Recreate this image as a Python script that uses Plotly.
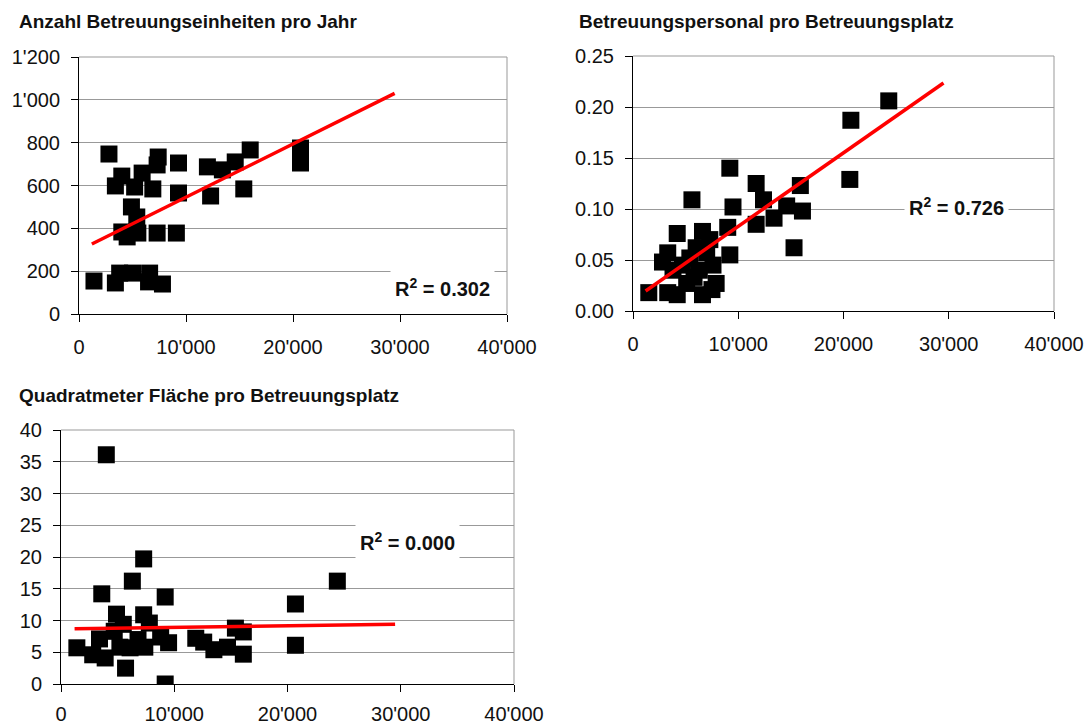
import plotly.graph_objects as go

# ---------------- data ----------------
titles = ["Anzahl Betreuungseinheiten pro Jahr",
          "Betreuungspersonal pro Betreuungsplatz",
          "Quadratmeter Fläche pro Betreuungsplatz"]

x_tickvals = [0, 10000, 20000, 30000, 40000]
x_ticktext = ["0", "10'000", "20'000", "30'000", "40'000"]

p1_tickvals = [0, 200, 400, 600, 800, 1000, 1200]
p1_ticktext = ["0", "200", "400", "600", "800", "1'000", "1'200"]
p2_tickvals = [0, 0.05, 0.10, 0.15, 0.20, 0.25]
p2_ticktext = ["0.00", "0.05", "0.10", "0.15", "0.20", "0.25"]
p3_tickvals = [0, 5, 10, 15, 20, 25, 30, 35, 40]
p3_ticktext = ["0", "5", "10", "15", "20", "25", "30", "35", "40"]

p1_x = [2800, 4000, 3400, 5900, 5200, 6900, 7400, 7300, 9300, 9300,
        4900, 5400, 4000, 4500, 5500, 7300, 9100, 1400, 3400, 3800,
        5000, 6600, 6500, 7800, 12000, 13400, 14600, 16000, 12300, 15400,
        20700, 20700]
p1_y = [747, 644, 598, 658, 593, 584, 733, 696, 705, 565,
        500, 453, 383, 360, 378, 378, 378, 154, 145, 191,
        191, 191, 150, 140, 687, 673, 710, 766, 551, 584,
        775, 705]

p2_x = [1500, 9200, 5600, 11700, 12400, 9500, 15900, 16100, 14600, 13400,
        11700, 15300, 9000, 4200, 6600, 7300, 9200, 3300, 2800, 5400,
        7000, 3800, 6300, 7900, 3300, 4200, 6600, 7500, 5100, 5800,
        24300, 20700, 20600, 4700, 6000, 7600]
p2_y = [0.018, 0.140, 0.109, 0.125, 0.109, 0.102, 0.123, 0.098, 0.103, 0.091,
        0.085, 0.062, 0.082, 0.076, 0.078, 0.070, 0.055, 0.057, 0.048, 0.052,
        0.057, 0.040, 0.040, 0.027, 0.018, 0.016, 0.016, 0.021, 0.027, 0.033,
        0.206, 0.187, 0.129, 0.045, 0.062, 0.045]

p3_x = [4000, 7300, 6300, 3600, 9200, 4900, 7300, 5500, 7800, 3400,
        1400, 2800, 3900, 5700, 9200, 9500, 5200, 6100, 7400, 8800,
        11900, 12600, 13500, 14700, 15400, 16100, 16100, 20700, 20700, 24400,
        4700, 6800]
p3_y = [36.1, 19.7, 16.2, 14.2, 13.7, 11.0, 10.9, 9.4, 9.6, 7.1,
        5.7, 4.6, 4.1, 2.5, 0.0, 6.5, 5.8, 5.7, 5.8, 7.4,
        7.2, 6.6, 5.4, 5.8, 8.8, 8.2, 4.7, 12.6, 6.1, 16.2,
        8.3, 7.0]

trend_x = [1200, 29500]
p1_trend = [327, 1030]
p2_trend = [0.0196, 0.2235]
p3_trend = [8.7, 9.4]

r2_text = ["0.302", "0.726", "0.000"]

# ---------------- figure ----------------
W, H = 1089, 726
FONT = "Liberation Sans, Arial, sans-serif"

fig = go.Figure()

panels = [
    dict(x=p1_x, y=p1_y, t=p1_trend, xa="x", ya="y"),
    dict(x=p2_x, y=p2_y, t=p2_trend, xa="x2", ya="y2"),
    dict(x=p3_x, y=p3_y, t=p3_trend, xa="x3", ya="y3"),
]
for p in panels:
    fig.add_trace(go.Scatter(x=p["x"], y=p["y"], mode="markers", xaxis=p["xa"], yaxis=p["ya"],
                             marker=dict(symbol="square", size=17, color="black",
                                         line=dict(width=0)),
                             hoverinfo="skip"))
    fig.add_trace(go.Scatter(x=trend_x, y=p["t"], mode="lines", xaxis=p["xa"], yaxis=p["ya"],
                             line=dict(color="#ff0000", width=3.5), hoverinfo="skip"))


def px_dom(a, b, total):
    return [a / total, b / total]


def ydom(top, bottom):
    return [1 - bottom / H, 1 - top / H]


tickfont = dict(family=FONT, size=20, color="#111111")


def xaxis(dom, anchor, standoff=8):
    return dict(domain=dom, anchor=anchor, range=[0, 40000], tickmode="array",
                tickvals=x_tickvals, ticktext=x_ticktext, showgrid=False, zeroline=False,
                showline=True, linecolor="black", linewidth=1, ticks="outside",
                ticklen=7, tickcolor="black", tickwidth=1, tickfont=tickfont,
                ticklabelstandoff=standoff, automargin=False, fixedrange=True)


def yaxis(dom, anchor, rng, tv, tt):
    return dict(domain=dom, anchor=anchor, range=rng, tickmode="array",
                tickvals=tv, ticktext=tt, showgrid=True, gridcolor="#999999", gridwidth=1,
                zeroline=False, showline=True, linecolor="black", linewidth=1,
                ticks="outside", ticklen=7, tickcolor="black", tickwidth=1,
                tickfont=tickfont, ticklabelstandoff=7, automargin=False, fixedrange=True)


fig.update_layout(
    width=W, height=H, autosize=False,
    margin=dict(l=0, r=0, t=0, b=0, pad=0, autoexpand=False),
    paper_bgcolor="white", plot_bgcolor="white", showlegend=False,
    xaxis=xaxis(px_dom(79, 507, W), "y"),
    yaxis=yaxis(ydom(57, 314), "x", [0, 1200], p1_tickvals, p1_ticktext),
    xaxis2=xaxis(px_dom(633, 1054, W), "y2"),
    yaxis2=yaxis(ydom(56, 311), "x2", [0, 0.25], p2_tickvals, p2_ticktext),
    xaxis3=xaxis(px_dom(61, 514, W), "y3", standoff=5),
    yaxis3=yaxis(ydom(430, 684), "x3", [0, 40], p3_tickvals, p3_ticktext),
)

# right / top borders of plot areas
for xr, yr in [("x", "y"), ("x2", "y2"), ("x3", "y3")]:
    fig.add_shape(type="line", xref=f"{xr} domain", yref=f"{yr} domain",
                  x0=1, x1=1, y0=0, y1=1, line=dict(color="#999999", width=1))
    fig.add_shape(type="line", xref=f"{xr} domain", yref=f"{yr} domain",
                  x0=0, x1=1, y0=1, y1=1, line=dict(color="#999999", width=1))

# titles
title_pos = [(17, 22), (577, 22), (17, 396)]
for t, (tx, ty) in zip(titles, title_pos):
    fig.add_annotation(text=f"<b>{t}</b>", xref="paper", yref="paper",
                       x=tx / W, y=1 - ty / H, xanchor="left", yanchor="middle",
                       showarrow=False, font=dict(family=FONT, size=19, color="#111111"))

# R² labels
r2_pos = [("x", "y", 34000, 126), ("x2", "y2", 30750, 0.102), ("x3", "y3", 30600, 22.5)]
for txt, (xr, yr, ax_, ay_) in zip(r2_text, r2_pos):
    fig.add_annotation(text=f"<b>R<sup>2</sup> = {txt}</b>", xref=xr, yref=yr, x=ax_, y=ay_,
                       xanchor="center", yanchor="middle", showarrow=False,
                       bgcolor="white", borderpad=4,
                       font=dict(family=FONT, size=20, color="#111111"))

fig.write_html("out.html", config={"displayModeBar": False, "staticPlot": True},
               post_script="document.body.style.margin='0';document.body.style.overflow='hidden';")
